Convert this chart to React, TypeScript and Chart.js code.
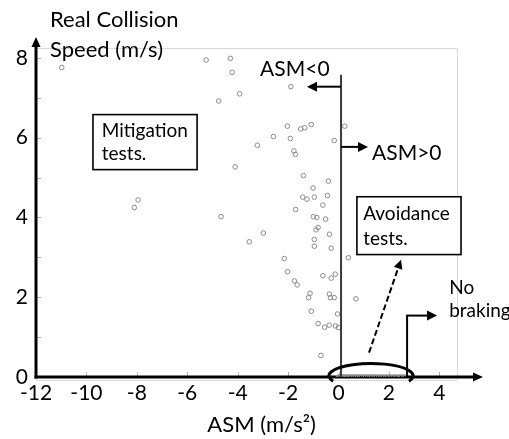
import { useEffect, useRef } from 'react';
import { Chart, registerables } from 'chart.js';

Chart.register(...registerables);

// Braking tests: ASM (m/s²) against real collision speed (m/s)
const brakingAsm = [
  -10.98, -7.95, -8.1, -4.66, -4.1, -3.54, -5.25, -4.29, -4.22, -3.92,
  -4.75, -1.89, -2.03, -1.5, -1.34, -1.08, 0.25, -2.58, -1.91, -3.22,
  -0.17, -1.77, -1.71, -1.39, -0.4, -1.01, -1.42, -1.25, -0.96, -0.44,
  -0.62, -1.7, -1.0, -0.86, -0.51, -0.81, -0.89, -2.98, -0.36, -0.96,
  -0.96, -0.29, -2.15, 0.39, -2.02, -1.75, -1.64, -0.62, -0.29, -0.13,
  -1.13, -1.19, -0.36, -0.32, -0.17, 0.69, -1.08, -0.04, -0.81, -0.55,
  -0.37, -0.12, 0.0, -0.7,
];
const brakingSpeed = [
  7.76, 4.44, 4.25, 4.02, 5.27, 3.39, 7.95, 7.99, 7.64, 7.1,
  6.92, 7.28, 6.29, 6.22, 6.25, 6.33, 6.29, 6.03, 5.98, 5.81,
  5.93, 5.67, 5.58, 5.05, 4.91, 4.74, 4.51, 4.46, 4.51, 4.55,
  4.31, 4.2, 4.02, 4.0, 3.96, 3.75, 3.69, 3.61, 3.58, 3.45,
  3.28, 3.23, 2.97, 2.99, 2.64, 2.41, 2.31, 2.54, 2.48, 2.58,
  2.1, 1.99, 2.08, 1.99, 1.99, 1.96, 1.65, 1.58, 1.34, 1.25,
  1.3, 1.28, 1.24, 0.54,
];

// Avoided collisions: real collision speed is zero
const avoidedAsm = [
  0.0, 0.04, 0.1, 0.15, 0.22, 0.3, 0.36, 0.45, 0.52, 0.6, 0.68, 0.75,
  0.83, 0.9, 1.0, 1.08, 1.15, 1.25, 1.33, 1.42, 1.5, 1.6, 1.7, 1.8,
  1.9, 2.0, 2.1, 2.2, 2.3, 2.42, 2.5, 2.6,
];
const avoidedSpeed = [
  0, 0, 0, 0, 0, 0, 0, 0, 0, 0, 0, 0,
  0, 0, 0, 0, 0, 0, 0, 0, 0, 0, 0, 0,
  0, 0, 0, 0, 0, 0, 0, 0,
];

const xTicks = [-12, -10, -8, -6, -4, -2, 0, 2, 4];
const yTicks = [0, 1, 2, 3, 4, 5, 6, 7, 8];
const yLabelled = [0, 2, 4, 6, 8];

const FONT = "Lato, 'Liberation Sans', sans-serif";

function toPoints(xs: number[], ys: number[]) {
  return xs.map((v, i) => ({ x: v, y: ys[i] }));
}

function line(ctx: CanvasRenderingContext2D, x0: number, y0: number, x1: number, y1: number) {
  ctx.beginPath();
  ctx.moveTo(x0, y0);
  ctx.lineTo(x1, y1);
  ctx.stroke();
}

function arrow(
  ctx: CanvasRenderingContext2D,
  x0: number, y0: number, x1: number, y1: number,
  head = 10, half = 5, dash: number[] = []
) {
  const ang = Math.atan2(y1 - y0, x1 - x0);
  const bx = x1 - head * Math.cos(ang);
  const by = y1 - head * Math.sin(ang);
  ctx.setLineDash(dash);
  line(ctx, x0, y0, bx, by);
  ctx.setLineDash([]);
  ctx.beginPath();
  ctx.moveTo(x1, y1);
  ctx.lineTo(bx + half * Math.sin(ang), by - half * Math.cos(ang));
  ctx.lineTo(bx - half * Math.sin(ang), by + half * Math.cos(ang));
  ctx.closePath();
  ctx.fill();
}

const overlay = {
  id: 'asmOverlay',
  beforeDatasetsDraw(chart: any) {
    const { ctx, chartArea: a, scales } = chart;
    const xs = scales.x;
    const ys = scales.y;
    ctx.save();
    // light plot frame
    ctx.strokeStyle = '#d9d9d9';
    ctx.lineWidth = 1;
    ctx.beginPath();
    ctx.moveTo(a.left, a.top + 0.5);
    ctx.lineTo(a.right + 0.5, a.top + 0.5);
    ctx.lineTo(a.right + 0.5, a.bottom + 3);
    ctx.stroke();
    line(ctx, a.left, a.bottom + 3.5, a.right, a.bottom + 3.5);
    // inside tick marks
    ctx.strokeStyle = '#b0b0b0';
    ys.ticks.forEach((_t: any, i: number) => {
      const py = Math.round(ys.getPixelForTick(i)) + 0.5;
      line(ctx, a.left, py, a.left + 5, py);
    });
    xs.ticks.forEach((_t: any, i: number) => {
      const px = Math.round(xs.getPixelForTick(i)) + 0.5;
      line(ctx, px, a.bottom, px, a.bottom - 5);
    });
    // black axes with arrow heads
    ctx.strokeStyle = '#000';
    ctx.fillStyle = '#000';
    ctx.lineWidth = 3;
    arrow(ctx, a.left, a.bottom + 1.5, a.left, a.top - 11, 10, 4.5);
    arrow(ctx, a.left - 1.5, a.bottom, a.right + 26, a.bottom, 10, 4.5);
    ctx.restore();
  },
  afterDatasetsDraw(chart: any) {
    const { ctx, chartArea: a, scales } = chart;
    const X = (v: number) => scales.x.getPixelForValue(v);
    const Y = (v: number) => scales.y.getPixelForValue(v);
    ctx.save();
    ctx.textBaseline = 'alphabetic';
    ctx.textAlign = 'left';

    // ASM = 0 divider
    ctx.strokeStyle = '#3a3a3a';
    ctx.lineWidth = 2;
    line(ctx, X(0.1), Y(7.58), X(0.1), a.bottom);

    ctx.strokeStyle = '#000';
    ctx.fillStyle = '#000';
    ctx.lineWidth = 2;
    arrow(ctx, X(0.1), Y(7.28), X(-1.25), Y(7.28), 10, 5);
    arrow(ctx, X(0.1), Y(5.77), X(1.17), Y(5.77), 10, 5);
    ctx.font = `21px ${FONT}`;
    ctx.fillText('ASM<0', X(-3.11), Y(7.54));
    ctx.fillText('ASM>0', X(1.33), Y(5.45));

    ctx.font = `19px ${FONT}`;
    // Mitigation box
    ctx.lineWidth = 1.6;
    ctx.fillStyle = '#fff';
    ctx.fillRect(X(-9.74), Y(6.58), X(-5.61) - X(-9.74), Y(5.2) - Y(6.58));
    ctx.strokeRect(X(-9.74), Y(6.58), X(-5.61) - X(-9.74), Y(5.2) - Y(6.58));
    ctx.fillStyle = '#000';
    ctx.fillText('Mitigation', X(-9.39), Y(6.03));
    ctx.fillText('tests.', X(-9.39), Y(5.45));

    // Avoidance box
    ctx.fillStyle = '#fff';
    ctx.fillRect(X(0.73), Y(4.52), X(4.86) - X(0.73), Y(3.07) - Y(4.52));
    ctx.strokeRect(X(0.73), Y(4.52), X(4.86) - X(0.73), Y(3.07) - Y(4.52));
    ctx.fillStyle = '#000';
    ctx.fillText('Avoidance', X(0.98), Y(3.93));
    ctx.fillText('tests.', X(0.98), Y(3.32));

    // dashed pointer from the avoided cluster to its label
    ctx.lineWidth = 2;
    arrow(ctx, X(1.21), Y(0.61), X(2.48), Y(2.94), 9, 4.5, [6, 3]);

    // ring round the avoided collisions
    const cx = X(1.29);
    const cy = Y(0.03);
    const rx = X(1.29 + 1.67) - cx;
    const ry = Y(0) - Y(0.31);
    ctx.lineWidth = 3;
    ctx.beginPath();
    ctx.ellipse(cx, cy, rx, ry, 0, Math.PI - 0.45, 2 * Math.PI + 0.45);
    ctx.stroke();

    // no braking pointer
    ctx.lineWidth = 2;
    line(ctx, X(2.72), a.bottom, X(2.72), Y(1.54));
    arrow(ctx, X(2.72) - 1, Y(1.54), X(3.91), Y(1.54), 10, 5);
    ctx.fillText('No', X(4.39), Y(2.07));
    ctx.fillText('braking', X(4.39), Y(1.51));

    // axis titles
    ctx.font = `22px ${FONT}`;
    ctx.fillText('Real Collision', a.left + 14, a.top - 21);
    ctx.fillText('Speed (m/s)', a.left + 14, a.top + 9);
    ctx.textAlign = 'center';
    ctx.fillText('ASM (m/s²)', X(-3.05), a.bottom + 55);
    ctx.restore();
  },
};

export default function App() {
  const canvasRef = useRef<HTMLCanvasElement | null>(null);

  useEffect(() => {
    const canvas = canvasRef.current;
    if (!canvas) return;
    const chart = new Chart(canvas, {
      type: 'scatter',
      data: {
        datasets: [
          {
            label: 'Braking',
            data: toPoints(brakingAsm, brakingSpeed),
            pointStyle: 'circle',
            pointRadius: 2.3,
            pointBorderWidth: 1,
            pointBorderColor: '#8a8a8a',
            pointBackgroundColor: 'rgba(255,255,255,0)',
          },
          {
            label: 'Avoided',
            data: toPoints(avoidedAsm, avoidedSpeed),
            pointStyle: 'circle',
            pointRadius: 2.3,
            pointBorderWidth: 1,
            pointBorderColor: '#8a8a8a',
            pointBackgroundColor: 'rgba(255,255,255,0)',
          },
        ],
      },
      options: {
        animation: false,
        responsive: false,
        layout: { padding: { left: 0, top: 48, right: 52, bottom: 0 } },
        plugins: {
          legend: { display: false },
          tooltip: { enabled: false },
        },
        scales: {
          x: {
            type: 'linear',
            min: -12,
            max: 4.7,
            afterFit: (s: any) => { s.height = 62; },
            afterBuildTicks: (s: any) => { s.ticks = xTicks.map((v) => ({ value: v })); },
            grid: { display: false, drawTicks: false },
            border: { display: false },
            ticks: {
              padding: 4,
              color: '#000',
              font: { family: FONT, size: 21 },
              maxRotation: 0,
              autoSkip: false,
            },
          },
          y: {
            type: 'linear',
            min: 0,
            max: 8.25,
            afterFit: (s: any) => { s.width = 36; },
            afterBuildTicks: (s: any) => { s.ticks = yTicks.map((v) => ({ value: v })); },
            grid: { display: false, drawTicks: false },
            border: { display: false },
            ticks: {
              padding: 8,
              color: '#000',
              font: { family: FONT, size: 21 },
              autoSkip: false,
              callback: (v: any) => (yLabelled.includes(Number(v)) ? String(v) : ''),
            },
          },
        },
      },
      plugins: [overlay],
    });
    return () => chart.destroy();
  }, []);

  return (
    <div style={{ position: 'fixed', left: 0, top: 0, width: 509, height: 439, background: '#fff' }}>
      <canvas ref={canvasRef} width={509} height={439} />
    </div>
  );
}
